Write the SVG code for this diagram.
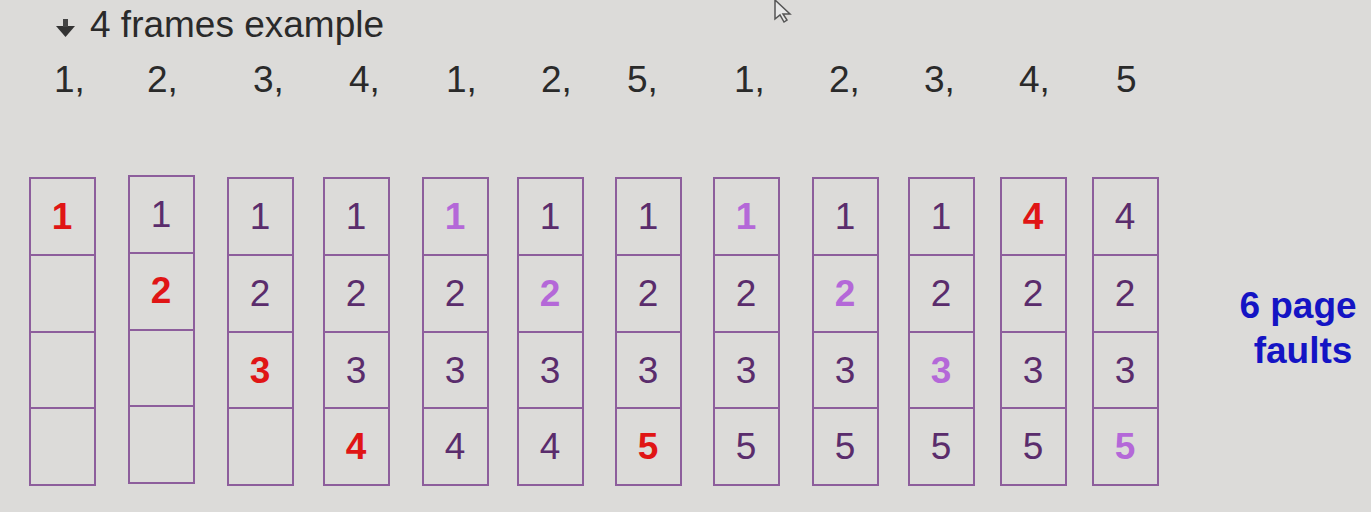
<svg xmlns="http://www.w3.org/2000/svg" width="1371" height="512" viewBox="0 0 1371 512">
<style>
.bg{fill:#dcdbd9}
.cell{fill:none;stroke:#8d5e9c;stroke-width:2}
.t{font-family:"Liberation Sans",Arial,sans-serif;font-size:37px;fill:#2a2a2a}
.n{font-family:"Liberation Sans",Arial,sans-serif;font-size:37px;text-anchor:middle;fill:#5a2c6c}
.r{fill:#e01515;font-weight:bold}
.l{fill:#b468d8;font-weight:bold}
.b{font-family:"Liberation Sans",Arial,sans-serif;font-size:37px;font-weight:bold;fill:#1414c4;text-anchor:middle}
</style>
<defs>
<g id="col">
<rect class="cell" x="0" y="0" width="65" height="307"/>
<line class="cell" x1="0" y1="77" x2="65" y2="77"/>
<line class="cell" x1="0" y1="154" x2="65" y2="154"/>
<line class="cell" x1="0" y1="230" x2="65" y2="230"/>
</g>
</defs>
<rect class="bg" x="0" y="0" width="1371" height="512"/>
<g id="title">
<path d="M56 26 L75 26 L65.5 37 Z" fill="#333"/>
<path d="M63 19 L68 19 L68 27 L63 27 Z" fill="#444"/>
<text class="t" x="90" y="37">4 frames example</text>
</g>
<g id="cursor">
<path d="M775 0 L775 19 L780 15 L784 22 L787 20 L783 14 L790 14 Z" fill="#e8e8e8" stroke="#555" stroke-width="1.5"/>
</g>
<g id="sequence">
<text class="t" x="54" y="92">1,</text>
<text class="t" x="147" y="92">2,</text>
<text class="t" x="253" y="92">3,</text>
<text class="t" x="349" y="92">4,</text>
<text class="t" x="446" y="92">1,</text>
<text class="t" x="541" y="92">2,</text>
<text class="t" x="627" y="92">5,</text>
<text class="t" x="734" y="92">1,</text>
<text class="t" x="829" y="92">2,</text>
<text class="t" x="924" y="92">3,</text>
<text class="t" x="1019" y="92">4,</text>
<text class="t" x="1116" y="92">5</text>
</g>
<g id="f1"><use href="#col" x="30" y="178"/>
<text class="n r" x="62" y="229">1</text></g>
<g id="f2"><use href="#col" x="129" y="176"/>
<text class="n" x="161" y="227">1</text><text class="n r" x="161" y="303">2</text></g>
<g id="f3"><use href="#col" x="228" y="178"/>
<text class="n" x="260" y="229">1</text><text class="n" x="260" y="306">2</text><text class="n r" x="260" y="383">3</text></g>
<g id="f4"><use href="#col" x="324" y="178"/>
<text class="n" x="356" y="229">1</text><text class="n" x="356" y="306">2</text><text class="n" x="356" y="383">3</text><text class="n r" x="356" y="459">4</text></g>
<g id="f5"><use href="#col" x="423" y="178"/>
<text class="n l" x="455" y="229">1</text><text class="n" x="455" y="306">2</text><text class="n" x="455" y="383">3</text><text class="n" x="455" y="459">4</text></g>
<g id="f6"><use href="#col" x="518" y="178"/>
<text class="n" x="550" y="229">1</text><text class="n l" x="550" y="306">2</text><text class="n" x="550" y="383">3</text><text class="n" x="550" y="459">4</text></g>
<g id="f7"><use href="#col" x="616" y="178"/>
<text class="n" x="648" y="229">1</text><text class="n" x="648" y="306">2</text><text class="n" x="648" y="383">3</text><text class="n r" x="648" y="459">5</text></g>
<g id="f8"><use href="#col" x="714" y="178"/>
<text class="n l" x="746" y="229">1</text><text class="n" x="746" y="306">2</text><text class="n" x="746" y="383">3</text><text class="n" x="746" y="459">5</text></g>
<g id="f9"><use href="#col" x="813" y="178"/>
<text class="n" x="845" y="229">1</text><text class="n l" x="845" y="306">2</text><text class="n" x="845" y="383">3</text><text class="n" x="845" y="459">5</text></g>
<g id="f10"><use href="#col" x="909" y="178"/>
<text class="n" x="941" y="229">1</text><text class="n" x="941" y="306">2</text><text class="n l" x="941" y="383">3</text><text class="n" x="941" y="459">5</text></g>
<g id="f11"><use href="#col" x="1001" y="178"/>
<text class="n r" x="1033" y="229">4</text><text class="n" x="1033" y="306">2</text><text class="n" x="1033" y="383">3</text><text class="n" x="1033" y="459">5</text></g>
<g id="f12"><use href="#col" x="1093" y="178"/>
<text class="n" x="1125" y="229">4</text><text class="n" x="1125" y="306">2</text><text class="n" x="1125" y="383">3</text><text class="n l" x="1125" y="459">5</text></g>
<g id="faults">
<text class="b" x="1298" y="318">6 page</text>
<text class="b" x="1303" y="363">faults</text>
</g>
<g id="connectors"/>
</svg>
